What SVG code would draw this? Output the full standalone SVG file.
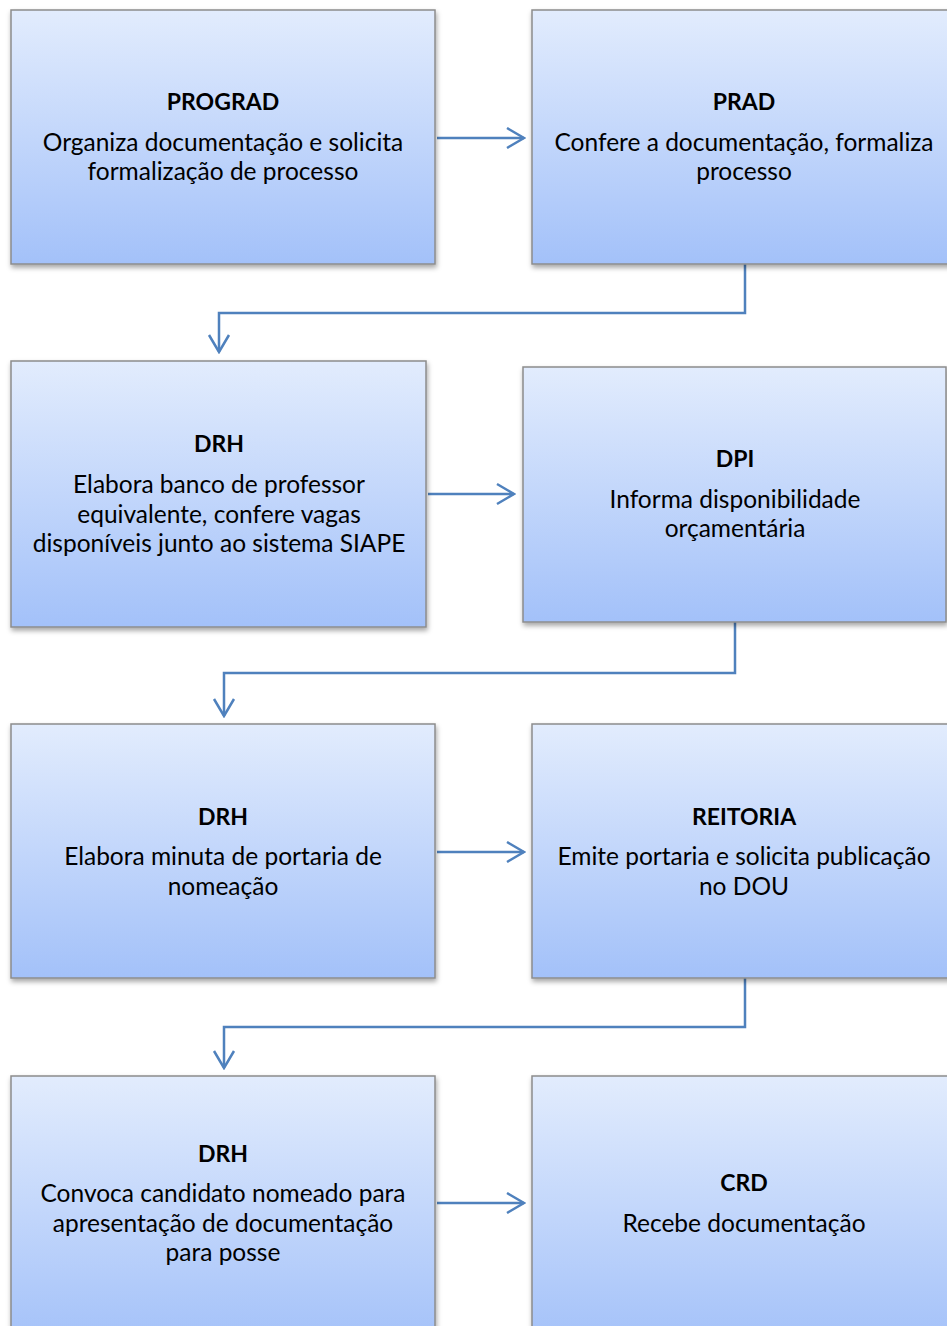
<svg xmlns="http://www.w3.org/2000/svg" width="947" height="1326" viewBox="0 0 947 1326">
<style>
.box{fill:url(#g);stroke:#8c8c8c;stroke-width:1.5;filter:url(#sh)}
.t{font-family:"Lato","Open Sans","Liberation Sans",sans-serif;font-size:24.5px;fill:#000;text-anchor:middle}
.b{font-weight:bold;font-size:23px}
.c{fill:none;stroke:#4F81BD;stroke-width:2.5}
</style>
<defs>
<linearGradient id="g" x1="0" y1="0" x2="0" y2="1">
<stop offset="0" stop-color="#E2ECFD"/>
<stop offset="1" stop-color="#A3C1F9"/>
</linearGradient>
<filter id="sh" x="-5%" y="-5%" width="115%" height="115%">
<feDropShadow dx="1" dy="3" stdDeviation="2.5" flood-color="#000" flood-opacity="0.35"/>
</filter>
<marker id="a" markerWidth="20" markerHeight="24" refX="18" refY="12" orient="auto" markerUnits="userSpaceOnUse">
<path d="M1,2 L18,12 L1,22" fill="none" stroke="#4F81BD" stroke-width="2.5"/>
</marker>
</defs>
<g id="connectors">
<path class="c" d="M437,138 H524" marker-end="url(#a)"/>
<path class="c" d="M745,264 V313 H219 V352" marker-end="url(#a)"/>
<path class="c" d="M428,494 H514" marker-end="url(#a)"/>
<path class="c" d="M735,622 V673 H224 V716" marker-end="url(#a)"/>
<path class="c" d="M437,852 H524" marker-end="url(#a)"/>
<path class="c" d="M745,978 V1027 H224 V1068" marker-end="url(#a)"/>
<path class="c" d="M437,1203 H524" marker-end="url(#a)"/>
</g>
<g id="n1"><rect class="box" x="11" y="10" width="424" height="254"/>
<text class="t b" x="223" y="110">PROGRAD</text>
<text class="t" x="223" y="151">Organiza documentação e solicita</text>
<text class="t" x="223" y="180">formalização de processo</text></g>
<g id="n2"><rect class="box" x="532" y="10" width="424" height="254"/>
<text class="t b" x="744" y="110">PRAD</text>
<text class="t" x="744" y="151">Confere a documentação, formaliza</text>
<text class="t" x="744" y="180">processo</text></g>
<g id="n3"><rect class="box" x="11" y="361" width="415" height="266"/>
<text class="t b" x="219" y="452">DRH</text>
<text class="t" x="219" y="493">Elabora banco de professor</text>
<text class="t" x="219" y="523">equivalente, confere vagas</text>
<text class="t" x="219" y="552">disponíveis junto ao sistema SIAPE</text></g>
<g id="n4"><rect class="box" x="523" y="367" width="423" height="255"/>
<text class="t b" x="735" y="467">DPI</text>
<text class="t" x="735" y="508">Informa disponibilidade</text>
<text class="t" x="735" y="537">orçamentária</text></g>
<g id="n5"><rect class="box" x="11" y="724" width="424" height="254"/>
<text class="t b" x="223" y="825">DRH</text>
<text class="t" x="223" y="865">Elabora minuta de portaria de</text>
<text class="t" x="223" y="895">nomeação</text></g>
<g id="n6"><rect class="box" x="532" y="724" width="424" height="254"/>
<text class="t b" x="744" y="825">REITORIA</text>
<text class="t" x="744" y="865">Emite portaria e solicita publicação</text>
<text class="t" x="744" y="895">no DOU</text></g>
<g id="n7"><rect class="box" x="11" y="1076" width="424" height="270"/>
<text class="t b" x="223" y="1162">DRH</text>
<text class="t" x="223" y="1202">Convoca candidato nomeado para</text>
<text class="t" x="223" y="1232">apresentação de documentação</text>
<text class="t" x="223" y="1261">para posse</text></g>
<g id="n8"><rect class="box" x="532" y="1076" width="424" height="270"/>
<text class="t b" x="744" y="1191">CRD</text>
<text class="t" x="744" y="1232">Recebe documentação</text></g>
</svg>
